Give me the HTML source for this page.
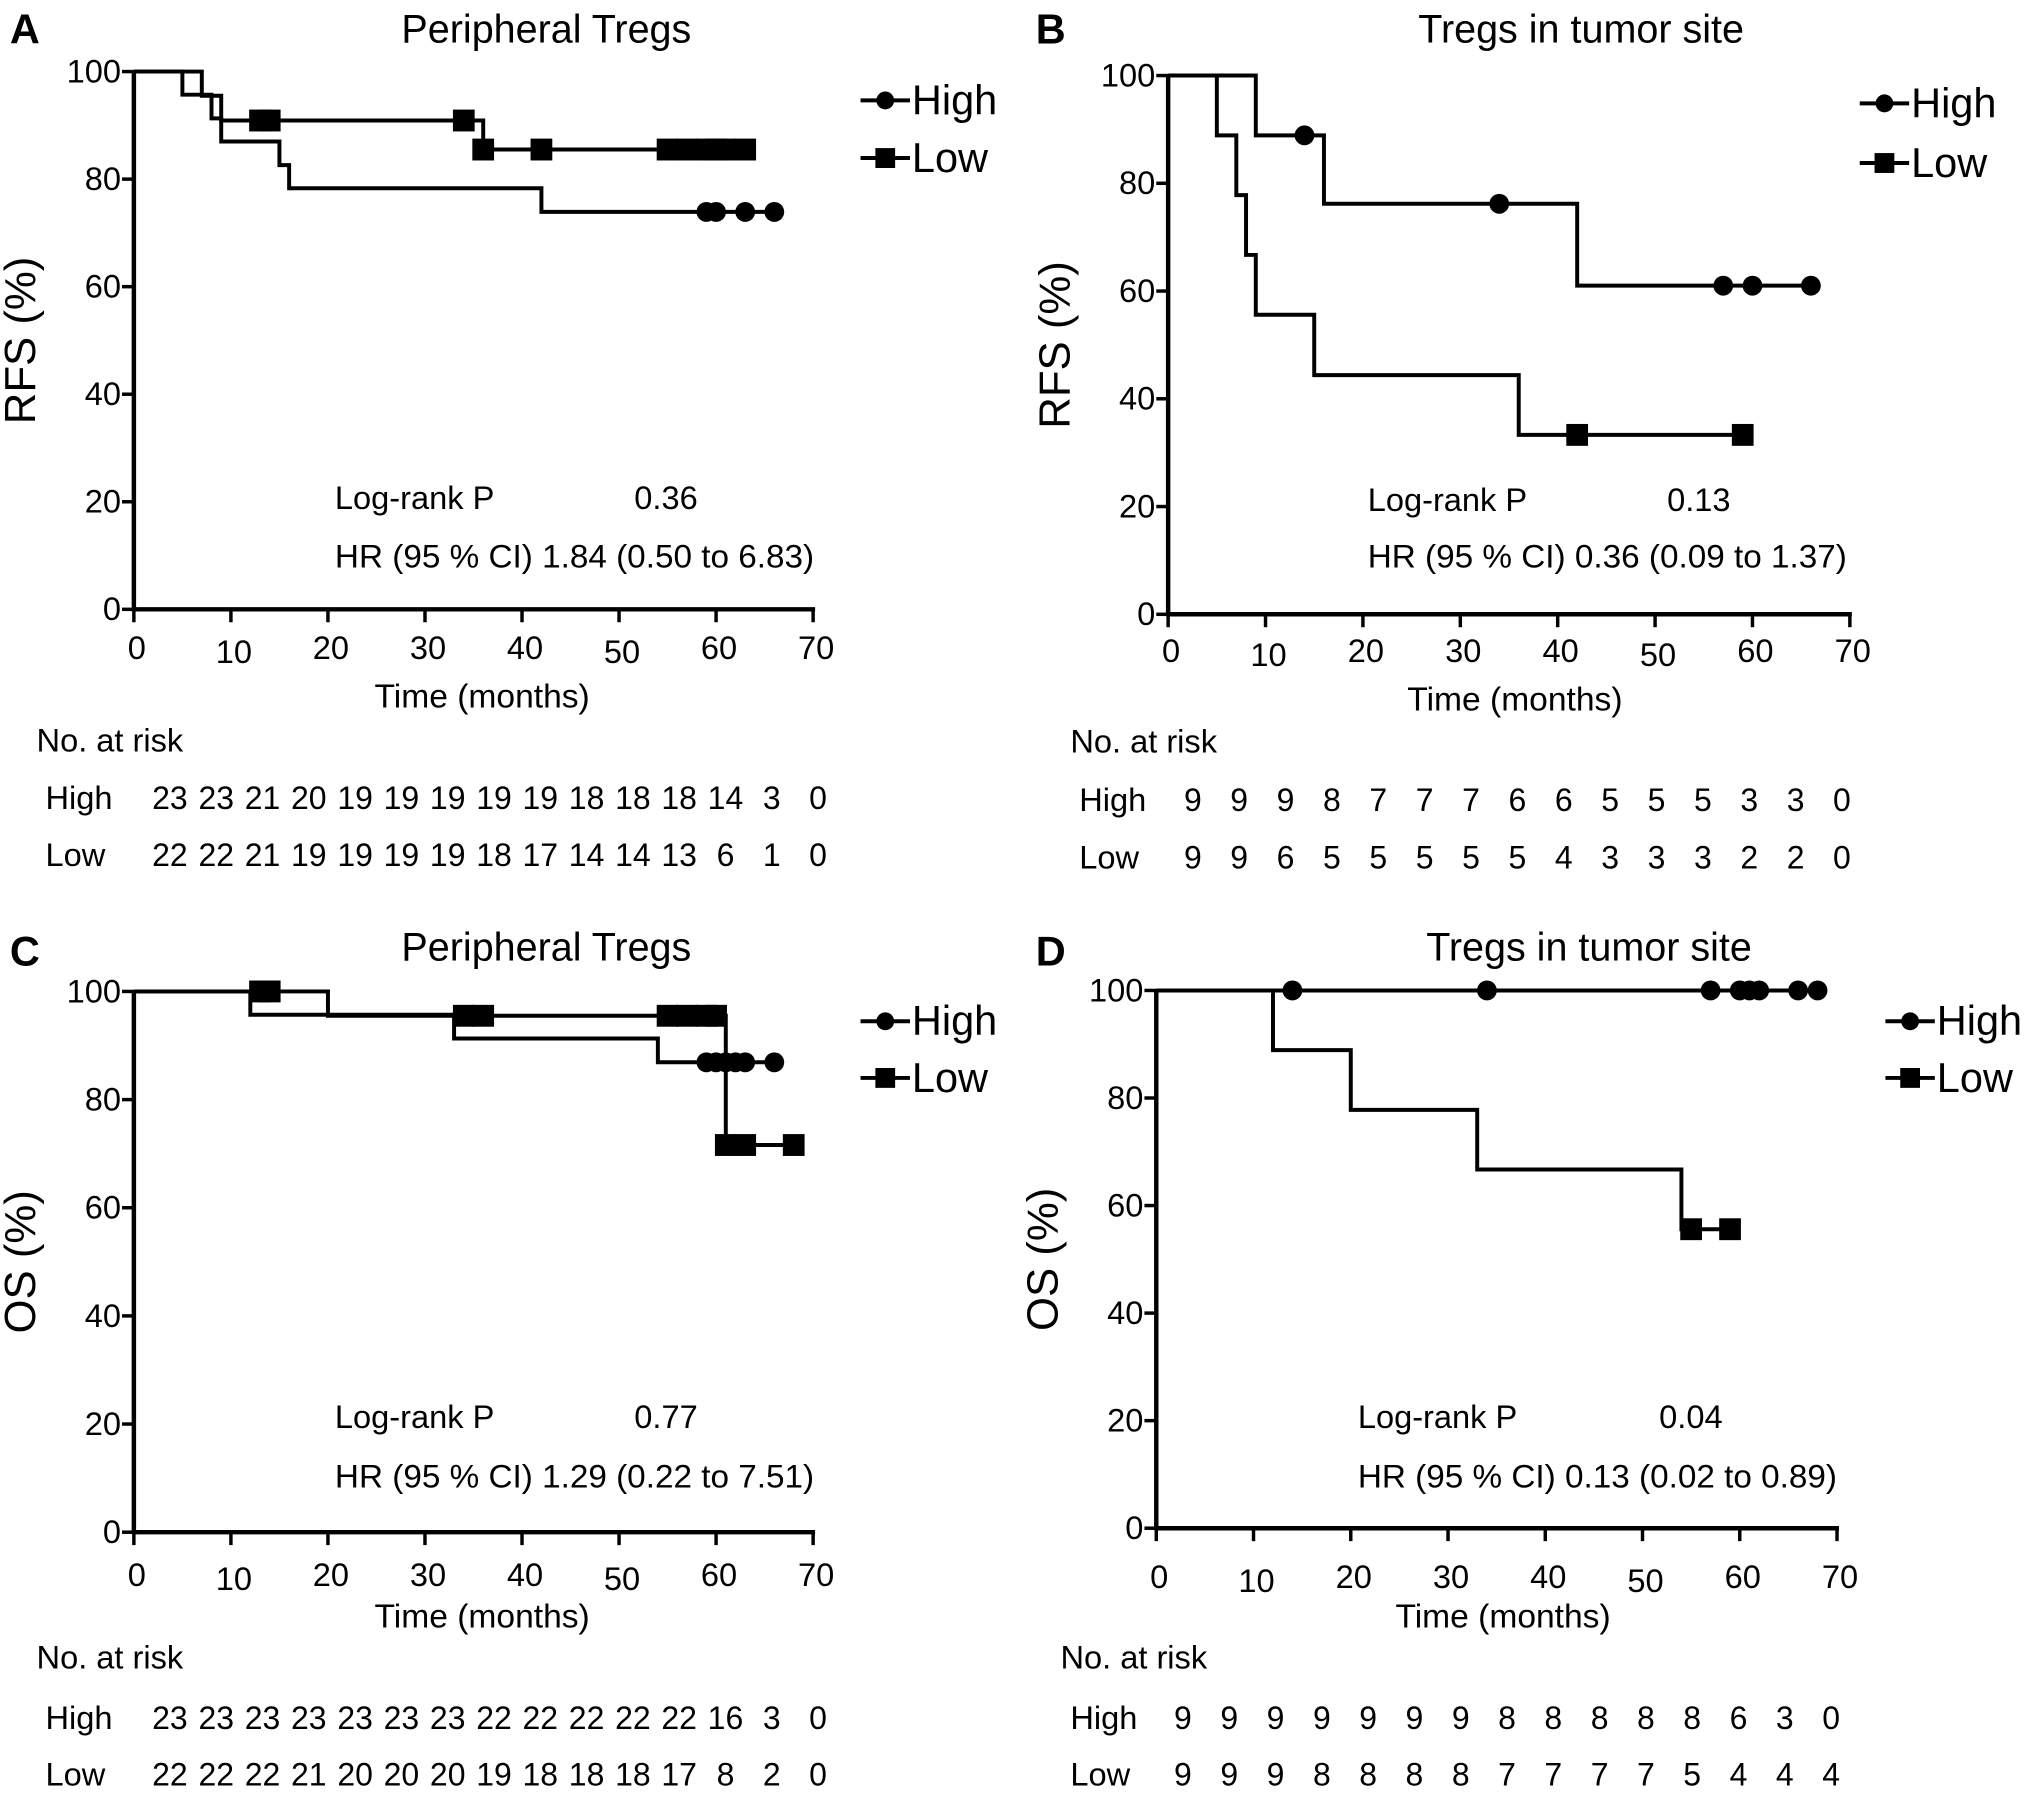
<!DOCTYPE html>
<html><head><meta charset="utf-8"><style>
html,body{margin:0;padding:0;background:#fff;}
svg{display:block;font-family:"Liberation Sans",Arial,sans-serif;}
</style></head><body>
<svg id="fig" width="2031" height="1800" viewBox="0 0 2031 1800" xmlns="http://www.w3.org/2000/svg"></svg>
<script>
// ---- data ----
const yTicks = [0,20,40,60,80,100];
const xTicks = [0,10,20,30,40,50,60,70];
const panelLetters = ["A","B","C","D"];
const panelTitles = ["Peripheral Tregs","Tregs in tumor site","Peripheral Tregs","Tregs in tumor site"];
const yTitles = ["RFS (%)","RFS (%)","OS (%)","OS (%)"];
const pValues = ["0.36","0.13","0.77","0.04"];
const hrTexts = ["HR (95 % CI) 1.84 (0.50 to 6.83)","HR (95 % CI) 0.36 (0.09 to 1.37)","HR (95 % CI) 1.29 (0.22 to 7.51)","HR (95 % CI) 0.13 (0.02 to 0.89)"];

const aHighT = [0,5,8,9,15,16,42], aHighS = [100,95.7,91.3,87,82.6,78.3,73.9], aHighEnd = 66;
const aHighCensT = [59,60,63,66];
const aLowT = [0,7,9,36], aLowS = [100,95.5,90.9,85.5], aLowEnd = 63;
const aLowCensT = [13,14,34,36,42,55,57,59,60,61,63];

const bHighT = [0,9,16,42], bHighS = [100,88.9,76.2,61], bHighEnd = 66;
const bHighCensT = [14,34,57,60,66];
const bLowT = [0,5,7,8,9,15,36], bLowS = [100,88.9,77.8,66.7,55.6,44.4,33.3], bLowEnd = 59;
const bLowCensT = [42,59];

const cHighT = [0,12,33,54], cHighS = [100,95.7,91.3,86.9], cHighEnd = 66;
const cHighCensT = [59,60,61,62,63,66];
const cLowT = [0,20,61], cLowS = [100,95.5,71.6], cLowEnd = 68;
const cLowCensT = [13,14,34,36,55,57,59,60,61,63,68];

const dHighT = [0], dHighS = [100], dHighEnd = 68;
const dHighCensT = [14,34,57,60,61,62,66,68];
const dLowT = [0,12,20,33,54], dLowS = [100,88.9,77.8,66.7,55.6], dLowEnd = 59;
const dLowCensT = [55,59];

const aRiskHigh = [23,23,21,20,19,19,19,19,19,18,18,18,14,3,0];
const aRiskLow  = [22,22,21,19,19,19,19,18,17,14,14,13,6,1,0];
const bRiskHigh = [9,9,9,8,7,7,7,6,6,5,5,5,3,3,0];
const bRiskLow  = [9,9,6,5,5,5,5,5,4,3,3,3,2,2,0];
const cRiskHigh = [23,23,23,23,23,23,23,22,22,22,22,22,16,3,0];
const cRiskLow  = [22,22,22,21,20,20,20,19,18,18,18,17,8,2,0];
const dRiskHigh = [9,9,9,9,9,9,9,8,8,8,8,8,6,3,0];
const dRiskLow  = [9,9,9,8,8,8,8,7,7,7,7,5,4,4,4];

// ---- layout (positions, not data) ----
const origins = [[0,0],[1015,0],[0,900],[1015,900]];
const layouts = [
 {x0:135.5,x1:823,y0:613,y1:72,letterY:44,titleX:553,titleY:43,legX:871,legHY:115,legLY:173,statX:339,statVX:642,statY:512,hrY:571,xtY:663,timeX:488,timeY:712,narX:37,narY:756,rowX:46,hY:814,lY:871,n0:172,n1:828},
 {x0:1170,x1:1860,y0:618,y1:76,letterY:44,titleX:1588,titleY:43,legX:1870,legHY:118,legLY:178,statX:1372,statVX:1675,statY:514,hrY:571,xtY:666,timeX:1521,timeY:715,narX:1071,narY:757,rowX:1080,hY:816,lY:874,n0:1195,n1:1852},
 {x0:135.5,x1:823,y0:1536,y1:992,letterY:966,titleX:553,titleY:961,legX:871,legHY:1036,legLY:1093,statX:339,statVX:642,statY:1431,hrY:1491,xtY:1590,timeX:488,timeY:1632,narX:37,narY:1673,rowX:46,hY:1734,lY:1791,n0:172,n1:828},
 {x0:1158,x1:1847,y0:1532,y1:991,letterY:966,titleX:1596,titleY:961,legX:1896,legHY:1036,legLY:1093,statX:1362,statVX:1667,statY:1431,hrY:1491,xtY:1592,timeX:1509,timeY:1632,narX:1061,narY:1673,rowX:1071,hY:1734,lY:1791,n0:1185,n1:1841}
];
const series = [
 {hT:aHighT,hS:aHighS,hE:aHighEnd,hC:aHighCensT,lT:aLowT,lS:aLowS,lE:aLowEnd,lC:aLowCensT,rh:aRiskHigh,rl:aRiskLow},
 {hT:bHighT,hS:bHighS,hE:bHighEnd,hC:bHighCensT,lT:bLowT,lS:bLowS,lE:bLowEnd,lC:bLowCensT,rh:bRiskHigh,rl:bRiskLow},
 {hT:cHighT,hS:cHighS,hE:cHighEnd,hC:cHighCensT,lT:cLowT,lS:cLowS,lE:cLowEnd,lC:cLowCensT,rh:cRiskHigh,rl:cRiskLow},
 {hT:dHighT,hS:dHighS,hE:dHighEnd,hC:dHighCensT,lT:dLowT,lS:dLowS,lE:dLowEnd,lC:dLowCensT,rh:dRiskHigh,rl:dRiskLow}
];

const NS = "http://www.w3.org/2000/svg";
const svg = document.getElementById('fig');
function mk(tag, attrs, parent, txt){
  const e = document.createElementNS(NS, tag);
  for (const k in attrs) e.setAttribute(k, attrs[k]);
  if (txt !== undefined) e.textContent = txt;
  (parent||svg).appendChild(e);
  return e;
}
function survAt(T,S,t){ let s=S[0]; for(let i=0;i<T.length;i++){ if(T[i]<=t) s=S[i]; } return s; }

layouts.forEach((L,pi)=>{
  const D = series[pi];
  const sx = v => L.x0 + (L.x1-L.x0)*v/70;
  const sy = v => L.y0 + (L.y1-L.y0)*v/100;
  const ox = origins[pi][0], oy = origins[pi][1];
  const g = mk('g',{transform:`translate(${ox} ${oy}) scale(0.988 0.994) translate(${-ox} ${-oy})`});
  
  

  let t = mk('text',{x:pi%2===0 ? 10 : 1036,y:L.letterY,'font-size':42,'font-weight':'bold'},g,panelLetters[pi]);
   

  t = mk('text',{x:L.titleX,y:L.titleY,'font-size':40,'text-anchor':'middle'},g,panelTitles[pi]);
   

  const yc = (L.y0+L.y1)/2;
  const yx = L.x0 - 100;
  t = mk('text',{x:yx,y:yc,'font-size':44,'text-anchor':'middle',transform:`rotate(-90 ${yx} ${yc})`},g,yTitles[pi]);
   

  let a = mk('line',{x1:L.x0,y1:L.y1,x2:L.x0,y2:L.y0+2,stroke:'#000','stroke-width':4.5},g);
   
  a = mk('line',{x1:L.x0-2,y1:L.y0,x2:L.x1+2,y2:L.y0,stroke:'#000','stroke-width':4.5},g);
   

  yTicks.forEach(v=>{
    const tk = mk('line',{x1:L.x0-12,y1:sy(v),x2:L.x0,y2:sy(v),stroke:'#000','stroke-width':3.5},g);
     
    const lb = mk('text',{x:L.x0-13,y:sy(v)+11,'font-size':33,'text-anchor':'end'},g,String(v));
     
  });
  xTicks.forEach(v=>{
    const tk = mk('line',{x1:sx(v),y1:L.y0,x2:sx(v),y2:L.y0+13,stroke:'#000','stroke-width':3.5},g);
     
    const lb = mk('text',{x:sx(v)+3,y:L.xtY + ((v===10||v===50)?4:0),'font-size':33,'text-anchor':'middle'},g,String(v));
     
  });
  t = mk('text',{x:L.timeX,y:L.timeY,'font-size':34,'text-anchor':'middle'},g,'Time (months)');
   

  function curve(T,S,E,C,name,marker){
    let d = `M${sx(T[0])},${sy(S[0])}`;
    for(let i=1;i<T.length;i++){ d += ` H${sx(T[i])} V${sy(S[i])}`; }
    d += ` H${sx(E)}`;
    const p = mk('path',{d:d,fill:'none',stroke:'#000','stroke-width':4},g);
     
    C.forEach(ct=>{
      const s = survAt(T,S,ct);
      let m;
      if(marker==='circle') m = mk('circle',{cx:sx(ct),cy:sy(s),r:10,fill:'#000'},g);
      else m = mk('rect',{x:sx(ct)-11,y:sy(s)-11,width:22,height:22,fill:'#000'},g);
       
    });
  }
  curve(D.hT,D.hS,D.hE,D.hC,'high','circle');
  curve(D.lT,D.lS,D.lE,D.lC,'low','square');

  const lg = mk('g',{},g);
   
  const e1 = mk('g',{},lg);  
  mk('line',{x1:L.legX,y1:L.legHY-14,x2:L.legX+50,y2:L.legHY-14,stroke:'#000','stroke-width':4},e1);
  mk('circle',{cx:L.legX+25,cy:L.legHY-14,r:9,fill:'#000'},e1);
  mk('text',{x:L.legX+52,y:L.legHY,'font-size':42},e1,'High');
  const e2 = mk('g',{},lg);  
  mk('line',{x1:L.legX,y1:L.legLY-14,x2:L.legX+50,y2:L.legLY-14,stroke:'#000','stroke-width':4},e2);
  mk('rect',{x:L.legX+15,y:L.legLY-24,width:20,height:20,fill:'#000'},e2);
  mk('text',{x:L.legX+52,y:L.legLY,'font-size':42},e2,'Low');

  t = mk('text',{x:L.statX,y:L.statY,'font-size':33},g,'Log-rank P');
   
  t = mk('text',{x:L.statVX,y:L.statY,'font-size':33},g,pValues[pi]);
   
  t = mk('text',{x:L.statX,y:L.hrY,'font-size':33,textLength:485,lengthAdjust:'spacingAndGlyphs'},g,hrTexts[pi]);
   

  t = mk('text',{x:L.narX,y:L.narY,'font-size':33},g,'No. at risk');
   
  t = mk('text',{x:L.rowX,y:L.hY,'font-size':33},g,'High');
   
  t = mk('text',{x:L.rowX,y:L.lY,'font-size':33},g,'Low');
   
  const step = (L.n1-L.n0)/14;
  D.rh.forEach((v,i)=>{
    const n = mk('text',{x:L.n0+step*i,y:L.hY,'font-size':33,'text-anchor':'middle',textLength:String(v).length>1?36:18,lengthAdjust:'spacingAndGlyphs'},g,String(v));
     
  });
  D.rl.forEach((v,i)=>{
    const n = mk('text',{x:L.n0+step*i,y:L.lY,'font-size':33,'text-anchor':'middle',textLength:String(v).length>1?36:18,lengthAdjust:'spacingAndGlyphs'},g,String(v));
     
  });
});
</script>
</body></html>
